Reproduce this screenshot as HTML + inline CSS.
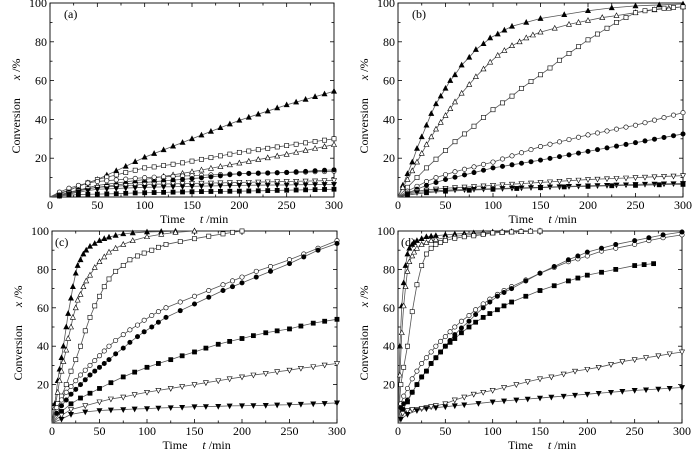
<!DOCTYPE html>
<html><head><meta charset="utf-8"><style>
html,body{margin:0;padding:0;background:#fff;}
svg, svg text{font-family:"Liberation Serif","Times New Roman",serif;}
</style></head><body>
<svg id="chart" width="700" height="449" viewBox="0 0 700 449"></svg>
<script>
// ---- data ----
const xTicks=[0,50,100,150,200,250,300];
const yTicks=[20,40,60,80,100];
const panelLabels=["(a)","(b)","(c)","(d)"];
// panel a
const aT=[0,10,20,30,40,50,60,70,80,90,100,110,120,130,140,150,160,170,180,190,200,210,220,230,240,250,260,270,280,290,300];
const aTriUpF=[0,1.5,3.5,5.5,7.3,9,11.3,13.5,15.8,18.2,20.5,22.4,24.3,26.2,28.1,30,31.9,33.8,35.7,37.6,39.5,41.1,42.7,44.3,45.9,47.5,48.9,50.3,51.7,53.1,54.5];
const aSqO=[0,2,3.5,5.5,7.3,9,10.2,11.4,12.6,13.8,15,15.5,16.2,16.9,17.6,18.5,19.4,20.3,21.2,22.1,23,23.7,24.4,25.1,25.8,26.5,27.2,27.9,28.6,29.3,30];
const aTriUpO=[0,1,2,3.5,4.8,6,6.6,7.2,7.8,8.4,9,9.8,10.6,11.4,12.2,13,13.9,14.8,15.7,16.6,17.5,18.4,19.3,20.2,21.1,22,23,24,25,26,27];
const aCircO=[0,2.5,4.5,6,7.2,8,8.4,8.8,9.2,9.6,10,10.2,10.4,10.6,10.8,11,11.2,11.4,11.6,11.8,12,12.1,12.2,12.3,12.5,12.6,12.7,12.8,13,13.1,13.3];
const aCircF=[0,1,2.5,3.5,4.3,5,5.6,6.2,6.8,7.2,7.5,7.9,8.3,8.7,9.1,9.5,9.9,10.4,10.9,11.5,12,12.2,12.3,12.4,12.5,12.7,13,13.2,13.5,13.8,14];
const aTriDnO=[0,1,2,3,4.2,5,5.3,5.6,5.9,6.2,6.5,6.6,6.7,6.8,6.9,7,7.1,7.2,7.3,7.4,7.5,7.6,7.7,7.8,7.9,8,8.1,8.2,8.3,8.4,8.5];
const aTriDnF=[0,0.8,1.5,2.5,3.3,4,4.2,4.4,4.6,4.8,5,5.1,5.2,5.3,5.4,5.5,5.6,5.7,5.8,5.9,6,6.05,6.1,6.15,6.2,6.2,6.3,6.35,6.4,6.45,6.5];
const aSqF=[0,0.5,1,1.2,1.4,1.5,1.6,1.7,1.9,2.1,2.2,2.3,2.4,2.5,2.6,2.7,2.8,2.85,2.9,2.95,3,3.1,3.2,3.3,3.4,3.5,3.6,3.7,3.8,3.9,4];
// panel b
const bTriUpF_T=[0,5,10,15,20,25,30,35,40,45,50,55,60,67,75,82,90,97,105,112,120,135,150,175,200,225,250,275,300];
const bTriUpF=[0,6,12,18,25,31,37,43,48,52,56,60,63,68,72,76,79,82,84,86,88,90,92,94,96,97.5,98.5,99,99.5];
const bTriUpO_T=[0,5,10,15,20,25,30,35,40,45,50,55,60,67,75,82,90,97,105,112,120,128,135,142,150,165,180,190,200,215,230,250,270,285,300];
const bTriUpO=[0,5,9,13.5,18,22.5,27,31,35,38.5,42,45.5,49,53.5,58,62,66,69.5,73,75.5,78,80,82,83.5,85,87,89,90,91,92.5,93.5,95,96.5,97.3,98];
const bSqO_T=[0,10,20,30,40,50,60,70,80,90,100,110,120,130,140,150,160,170,180,190,200,210,220,230,240,250,260,270,280,290,300];
const bSqO=[0,5,10,15,19.5,24,28.5,32.5,36.5,41,45,48.5,52,56,59.5,63,66.5,70.5,74,77.5,81,84,87,90,92.5,95,96,96.7,97.3,97.7,98];
const bCircO_T=[0,10,20,30,40,50,60,70,80,90,100,110,120,130,140,150,160,170,180,190,200,210,220,230,240,250,260,270,280,290,300];
const bCircO=[0,3,5.5,8,10,11.5,13,14.3,15.5,16.8,18,19.6,21.2,22.8,24.4,26,27.2,28.4,29.6,30.8,32,33,34,35,36,37,38.3,39.6,40.9,42.2,43.5];
const bCircF_T=[0,10,20,30,40,50,60,70,80,90,100,110,120,130,140,150,160,170,180,190,200,210,220,230,240,250,260,270,280,290,300];
const bCircF=[0,2,4,6,7.5,9,10.2,11.4,12.6,13.8,15,15.8,16.6,17.4,18.2,19,19.9,20.8,21.7,22.6,23.5,24.4,25.3,26.2,27.1,28,28.9,29.8,30.7,31.6,32.5];
const bTriDnO_T=[0,10,20,30,40,50,60,70,80,90,100,110,120,130,140,150,160,170,180,190,200,210,220,230,240,250,260,270,280,290,300];
const bTriDnO=[0,2,3,3.6,4.1,4.5,4.8,5.1,5.4,5.7,6,6.3,6.6,6.9,7.2,7.5,7.8,8.1,8.4,8.7,9,9.2,9.4,9.6,9.8,10,10.2,10.4,10.6,10.8,11];
const bTriDnF_T=[0,10,20,30,40,50,60,70,80,90,100,110,120,130,140,150,160,170,180,190,200,210,220,230,240,250,260,270,280,290,300];
const bTriDnF=[0,1.5,2.3,2.8,3.2,3.5,3.7,3.8,4,4.1,4.3,4.4,4.6,4.7,4.9,5,5.2,5.3,5.5,5.6,5.8,5.9,6,6.2,6.3,6.5,6.6,6.7,6.8,6.9,7];
const bSqF_T=[0,10,30,50,75,100,125,150,175,200,225,250,275,300];
const bSqF=[0,1,2.2,3,3.5,4,4.4,4.8,5.2,5.5,5.8,6,6.3,6.5];
// panel c
const cTriUpF_T=[0,3,6,8,10,12,15,17,20,22,25,27,30,33,36,40,45,50,55,60,67,75,85,100,115,130,150];
const cTriUpF=[0,10,22,28,34,40,50,57,65,71,78,82,85,88,90,92,93.5,95,96,96.8,97.7,98.5,99,99.5,99.7,99.9,100];
const cTriUpO_T=[0,3,6,8,10,12,15,17,20,22,25,27,30,33,36,40,45,50,55,60,67,75,85,100,115,130,150];
const cTriUpO=[0,8,16,22,27,32,38,44,50,55,60,64,67,71,74,77,81,84,86.5,89,91,93,95,97,98.3,99.3,100];
const cSqO_T=[0,6,10,15,20,25,30,35,40,45,50,55,60,67,75,82,90,97,105,112,120,135,150,165,180,190,200];
const cSqO=[0,10,14,20,27,33,40,48,55,61,66,71,75,79,82,85,87,88.5,90,91.5,93,94.5,96,97.3,98.5,99.3,100];
const cCircO_T=[0,5,10,15,20,25,30,35,40,45,50,55,60,67,75,82,90,97,105,112,120,135,150,165,180,190,200,215,230,250,265,280,300];
const cCircO=[0,8,12,16,19,22,25,27.5,30,32.5,35,37.5,40,43,46,48.5,51,53.5,56,58,60,63,66,69,72,74,76,79,81.5,85,88,91,95];
const cCircF_T=[0,5,10,15,20,25,30,35,40,45,50,55,60,67,75,82,90,97,105,112,120,135,150,165,180,190,200,215,230,250,265,280,300];
const cCircF=[0,5,9,12,15,17.5,20,22.5,25,27,29,31,33,36,39,42,45,47.5,50,52.5,55,58.5,62,65.5,69,71,73,76,79,83,86.5,90,93.5];
const cSqF_T=[0,10,20,30,40,50,62,75,87,100,112,125,137,150,162,175,187,200,212,225,237,250,262,275,287,300];
const cSqF=[0,6,10,13,15.5,18,21,24,26.5,29,31,33,35,37,39,41,42.5,44,45.5,47,48,49,50.5,52,53,54];
const cTriDnO_T=[0,10,20,35,50,62,75,87,100,112,125,137,150,162,175,187,200,212,225,237,250,262,275,287,300];
const cTriDnO=[0,4,7,9,11,12.5,13.5,14.8,16,17,18,19,20,21,22,23,24,25,25.8,26.7,27.5,28.5,29.3,30.2,31];
const cTriDnF_T=[0,10,20,35,50,62,75,87,100,112,125,137,150,162,175,187,200,212,225,237,250,262,275,287,300];
const cTriDnF=[0,2,4.5,5.8,6.5,6.8,7,7.3,7.5,7.8,8,8.2,8.5,8.6,8.7,8.9,9,9.1,9.2,9.4,9.5,9.8,10,10.2,10.5];
// panel d
const dTriUpF_T=[0,2,4,6,8,10,12,15,17,20,25,30,35,40,50,60,70,80,90,100,110,120,130,140,150];
const dTriUpF=[0,40,61,73,82,88,91,93,94,95,96,97,97.3,97.6,98,98.4,98.7,99,99.2,99.5,99.6,99.7,99.8,99.9,100];
const dTriUpO_T=[0,2,4,6,8,10,12,15,17,20,25,30,35,40,50,60,70,80,90,100,110,120,130,140,150];
const dTriUpO=[0,25,47,61,71,79,84,87,89,91,93,94,95,95.6,96.5,97.2,97.8,98.3,98.7,99,99.3,99.5,99.7,99.9,100];
const dSqO_T=[0,3,6,10,15,20,25,30,35,40,45,50,60,70,80,90,100,110,120,130,140,150];
const dSqO=[0,20,29,40,58,72,82,88,91,93,94,95,96.2,97,97.5,98.2,99,99.3,99.5,99.7,99.9,100];
const dCircO_T=[0,3,6,10,15,20,25,30,35,40,45,50,55,60,67,75,82,90,97,105,112,120,135,150,165,180,190,200,215,230,250,265,280,300];
const dCircO=[0,10,14,18,23,27,31,34,37,40,42.5,45,47.5,50,53,56,59,62,64.5,67,69,71,74.5,78,81,84,85.5,87,89.5,91,93,95,96.5,98];
const dCircF_T=[0,3,6,10,15,20,25,30,35,40,45,50,55,60,67,75,82,90,97,105,112,120,135,150,165,180,190,200,215,230,250,265,280,300];
const dCircF=[0,8,10,12,16,20,24,27,31,34,37,40,43,46,49.5,53,56.5,60,63,66,68,70,74,78,81.5,85,87,89,91,93,95,96.5,98,99.5];
const dSqF_T=[0,5,10,15,20,25,30,35,40,45,50,55,60,67,75,82,90,97,105,112,120,135,150,165,180,190,200,215,230,250,260,270];
const dSqF=[0,7,11,16,20,24,27,31,34,37,40,42,44,47,50,52.5,55,57,59,61,63,66,69,71.5,74,75.5,77,78.5,80,82,82.5,83];
const dTriDnO_T=[0,5,10,15,20,25,30,35,40,50,60,70,80,90,100,112,125,137,150,162,175,187,200,212,225,237,250,262,275,287,300];
const dTriDnO=[0,5,6.5,7,7,7.5,8,8.5,9,10,12,13.5,15,16,17,18.5,20,21.5,23,24,25.5,27,28,29,30.5,32,33,34,35,36,37];
const dTriDnF_T=[0,3,10,20,30,40,50,60,70,85,100,112,125,137,150,162,175,187,200,212,225,237,250,262,275,287,300];
const dTriDnF=[0,2,4.5,6.5,7.5,8,8.5,9,9.5,10.2,11,11.5,12,12.5,13,13.5,14,14.5,15,15.5,16,16.5,17,17.3,17.7,18.1,18.5];

const panels=[
 {x0:50,x1:334,yt:3,yb:197,series:[
  ["triUpF",aT,aTriUpF],["sqO",aT,aSqO],["triUpO",aT,aTriUpO],["circO",aT,aCircO],
  ["circF",aT,aCircF],["triDnO",aT,aTriDnO],["triDnF",aT,aTriDnF],["sqF",aT,aSqF]]},
 {x0:398,x1:683,yt:3,yb:197,series:[
  ["triUpF",bTriUpF_T,bTriUpF],["triUpO",bTriUpO_T,bTriUpO],["sqO",bSqO_T,bSqO],["circO",bCircO_T,bCircO],
  ["circF",bCircF_T,bCircF],["triDnO",bTriDnO_T,bTriDnO],["triDnF",bTriDnF_T,bTriDnF],["sqF",bSqF_T,bSqF]]},
 {x0:52,x1:337,yt:231,yb:423,series:[
  ["triUpF",cTriUpF_T,cTriUpF],["triUpO",cTriUpO_T,cTriUpO],["sqO",cSqO_T,cSqO],["circO",cCircO_T,cCircO],
  ["circF",cCircF_T,cCircF],["sqF",cSqF_T,cSqF],["triDnO",cTriDnO_T,cTriDnO],["triDnF",cTriDnF_T,cTriDnF]]},
 {x0:398,x1:682,yt:231,yb:423,series:[
  ["triUpF",dTriUpF_T,dTriUpF],["triUpO",dTriUpO_T,dTriUpO],["sqO",dSqO_T,dSqO],["circO",dCircO_T,dCircO],
  ["circF",dCircF_T,dCircF],["sqF",dSqF_T,dSqF],["triDnO",dTriDnO_T,dTriDnO],["triDnF",dTriDnF_T,dTriDnF]]}
];

const NS="http://www.w3.org/2000/svg";
const FONT='"Liberation Serif","Times New Roman",serif';
const svg=document.getElementById('chart');
function mk(tag,attrs,parent){const e=document.createElementNS(NS,tag);for(const k in attrs)e.setAttribute(k,attrs[k]);(parent||svg).appendChild(e);return e;}

function marker(g,type,x,y){
  const filled=type.endsWith('F');
  const st={fill:filled?'#000':'#fff',stroke:'#000','stroke-width':0.6};
  let e;const r=2.5;
  if(type.startsWith('tri')){
    const s=type.startsWith('triUp')?1:-1;
    e=mk('polygon',Object.assign({points:`${x},${y-s*r*1.1} ${x-r},${y+s*r*0.8} ${x+r},${y+s*r*0.8}`},st),g);
  }else if(type.startsWith('sq')){
    e=mk('rect',Object.assign({x:x-2.1,y:y-2.1,width:4.2,height:4.2},st),g);
  }else{
    e=mk('circle',Object.assign({cx:x,cy:y,r:2.2},st),g);
  }
  
  
}

panels.forEach((p,pi)=>{
  const X=t=>p.x0+(t/300)*(p.x1-p.x0);
  const Y=v=>p.yb-(v/100)*(p.yb-p.yt);
  const g=mk('g',{});
  
  
  const fr=mk('rect',{x:p.x0,y:p.yt,width:p.x1-p.x0,height:p.yb-p.yt,fill:'none',stroke:'#000','stroke-width':0.9},g);
  
  
  for(let t=0;t<=300;t+=25){
    const len=t%50===0?4:2.5;
    mk('line',{x1:X(t),x2:X(t),y1:p.yb,y2:p.yb-len,stroke:'#000','stroke-width':0.8},g);
    mk('line',{x1:X(t),x2:X(t),y1:p.yt,y2:p.yt+len,stroke:'#000','stroke-width':0.8},g);
  }
  xTicks.forEach(t=>{
    const tx=mk('text',{x:X(t),y:p.yb+12,'font-size':12,'text-anchor':'middle','font-family':FONT},g);
    tx.textContent=t;
    
    
  });
  for(let v=10;v<100;v+=10){
    const len=v%20===0?4:2.5;
    mk('line',{x1:p.x0,x2:p.x0+len,y1:Y(v),y2:Y(v),stroke:'#000','stroke-width':0.8},g);
    mk('line',{x1:p.x1,x2:p.x1-len,y1:Y(v),y2:Y(v),stroke:'#000','stroke-width':0.8},g);
  }
  yTicks.forEach(v=>{
    const tx=mk('text',{x:p.x0-3,y:Y(v)+4,'font-size':12,'text-anchor':'end','font-family':FONT},g);
    tx.textContent=v;
    
    
  });
  const xl=mk('text',{x:(p.x0+p.x1)/2-32,y:p.yb+26,'font-size':12,'font-family':FONT},g);
  xl.innerHTML='Time&#160;&#160;&#160;&#160;&#160;<tspan font-style="italic">t</tspan> /min';
  
  
  const cy=(p.yt+p.yb)/2+6, cx=p.x0-30;
  const yl=mk('text',{x:cx,y:cy,'font-size':12,'text-anchor':'middle','font-family':FONT,transform:`rotate(-90 ${cx} ${cy})`},g);
  yl.innerHTML='Conversion&#160;&#160;&#160;&#160;&#160;&#160;<tspan font-style="italic">x</tspan> /%';
  
  
  const pl=mk('text',{x:p.x0+(pi<2?14:3),y:p.yt+15,'font-size':12,'font-family':FONT},g);
  pl.textContent=panelLabels[pi];
  
  
  p.series.forEach(([type,T,V])=>{
    const sg=mk('g',{},g);
    
    
    const pts=T.map((t,i)=>X(t)+','+Y(V[i])).join(' ');
    const pl2=mk('polyline',{points:pts,fill:'none',stroke:'#555','stroke-width':0.8},sg);
    
    
    T.forEach((t,i)=>{ if(i>0) marker(sg,type,X(t),Y(V[i])); });
  });
});
</script>
</body></html>
